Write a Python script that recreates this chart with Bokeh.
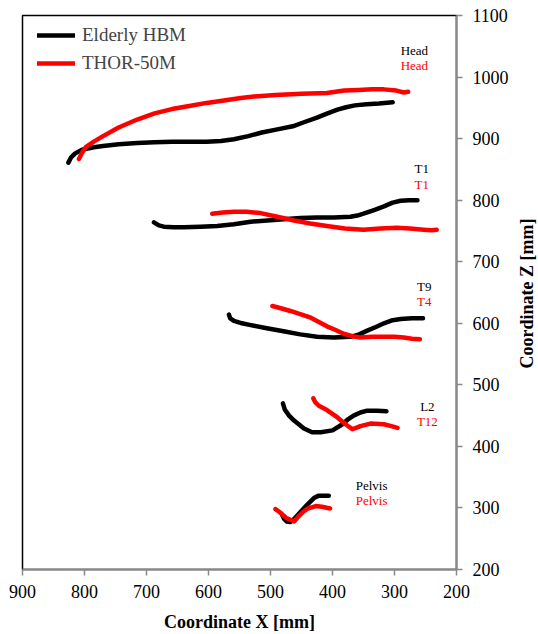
import math
from bokeh.plotting import figure
from bokeh.models import Range1d, Legend, LegendItem, FixedTicker, Label
from bokeh.core.properties import value
from bokeh.embed import file_html
from bokeh.resources import INLINE

# ---- data (mm) ----
hbm_head_x = [826, 822, 815, 804, 785, 770, 745, 715, 687, 659, 631, 603, 580, 559, 536, 514, 489, 464, 445, 425, 408, 392, 378, 364, 345, 325, 303]
hbm_head_z = [861, 869, 876, 882, 886, 888, 891, 893, 894, 895, 895, 895, 896, 899, 904, 910, 915, 920, 927, 934, 941, 947, 951, 954, 956, 957, 959]
thor_head_x = [809, 804, 798, 785, 770, 745, 715, 687, 659, 631, 603, 575, 548, 520, 492, 450, 409, 395, 381, 358, 336, 317, 297, 285, 278]
thor_head_z = [867, 877, 886, 895, 904, 918, 931, 941, 948, 953, 958, 962, 966, 969, 971, 973, 974, 976, 978, 979, 980, 980, 978, 975, 976]

hbm_t1_x = [688, 680, 672, 656, 640, 613, 586, 559, 532, 505, 479, 452, 425, 398, 371, 360, 350, 333, 317, 303, 290, 276, 263]
hbm_t1_z = [764, 759, 757, 756, 756, 757, 758, 761, 765, 767, 769, 771, 772, 772, 773, 775, 778, 784, 790, 796, 799, 800, 800]
thor_t1_x = [594, 577, 559, 538, 516, 489, 462, 436, 409, 380, 350, 323, 296, 275, 253, 240, 232]
thor_t1_z = [778, 780, 781, 781, 779, 773, 767, 762, 758, 754, 752, 754, 755, 754, 752, 751, 752]

hbm_t9_x = [567, 565, 559, 546, 532, 506, 479, 452, 425, 398, 371, 357, 344, 330, 317, 303, 290, 272, 254]
hbm_t9_z = [614, 608, 604, 600, 597, 592, 587, 582, 578, 577, 578, 582, 588, 594, 600, 605, 607, 608, 608]
thor_t4_x = [497, 482, 468, 452, 435, 422, 409, 395, 382, 368, 355, 336, 317, 300, 285, 272, 259]
thor_t4_z = [628, 624, 620, 615, 609, 602, 595, 589, 583, 579, 577, 578, 578, 578, 577, 575, 574]

hbm_l2_x = [480, 477, 470, 462, 446, 433, 419, 400, 384, 375, 366, 355, 344, 328, 313]
hbm_l2_z = [470, 460, 450, 442, 429, 423, 423, 426, 436, 444, 450, 455, 458, 458, 457]
thor_t12_x = [431, 428, 422, 409, 392, 379, 368, 362, 355, 339, 317, 305, 295]
thor_t12_z = [478, 472, 466, 459, 447, 436, 428, 430, 433, 437, 436, 433, 430]

hbm_pelvis_x = [481, 478, 474, 468, 462, 452, 441, 430, 422, 414, 406]
hbm_pelvis_z = [288, 282, 278, 277, 282, 293, 305, 316, 320, 320, 320]
thor_pelvis_x = [492, 485, 475, 462, 456, 448, 440, 427, 417, 404]
thor_pelvis_z = [298, 293, 284, 278, 285, 293, 299, 303, 302, 299]

series_names = ["Elderly HBM", "THOR-50M"]
series_colors = ["#000000", "#ff0000"]

hbm_labels = ["Head", "T1", "T9", "L2", "Pelvis"]
thor_labels = ["Head", "T1", "T4", "T12", "Pelvis"]
label_x = [268, 256, 252, 247, 337]
hbm_label_z = [1043, 851, 660, 464, 336]
thor_label_z = [1019, 826, 635, 440, 312]

x_ticks = [900, 800, 700, 600, 500, 400, 300, 200]
y_ticks = [200, 300, 400, 500, 600, 700, 800, 900, 1000, 1100]

FONT = "Liberation Serif"
AXIS_GRAY = "#8a8a8a"

p = figure(width=538, height=634,
           x_range=Range1d(900, 200), y_range=Range1d(200, 1100),
           y_axis_location="right",
           output_backend="svg", toolbar_location=None,
           min_border_left=22, min_border_right=82,
           min_border_top=15, min_border_bottom=63)

p.grid.visible = False
p.outline_line_color = "black"
p.outline_line_width = 1.5
p.background_fill_color = "white"
p.border_fill_color = "white"

for ax in (p.xaxis[0], p.yaxis[0]):
    ax.axis_line_color = AXIS_GRAY
    ax.axis_line_width = 2
    ax.major_tick_line_color = AXIS_GRAY
    ax.major_tick_line_width = 1.5
    ax.major_tick_out = 6
    ax.major_tick_in = 0
    ax.minor_tick_line_color = None
    ax.major_label_text_font = FONT
    ax.major_label_text_font_size = "18px"
    ax.major_label_text_color = "black"
    ax.axis_label_text_font = FONT
    ax.axis_label_text_font_size = "18px"
    ax.axis_label_text_font_style = "bold"
    ax.axis_label_text_color = "black"

p.xaxis.ticker = FixedTicker(ticks=x_ticks)
p.yaxis.ticker = FixedTicker(ticks=y_ticks)
p.xaxis.axis_label = "Coordinate X [mm]"
p.xaxis.major_label_standoff = 9
p.xaxis.axis_label_standoff = 11
p.yaxis.major_label_standoff = 10

# Y-axis title, reading bottom-to-top, placed in the right side panel
p.add_layout(Label(x=15, y=276, x_units="screen", y_units="screen",
                   text="Coordinate Z [mm]", angle=math.pi / 2,
                   text_font=FONT, text_font_size="18px", text_font_style="bold",
                   text_color="black", text_align="center", text_baseline="middle"),
             "right")

hbm_segments = [(hbm_head_x, hbm_head_z), (hbm_t1_x, hbm_t1_z), (hbm_t9_x, hbm_t9_z),
                (hbm_l2_x, hbm_l2_z), (hbm_pelvis_x, hbm_pelvis_z)]
thor_segments = [(thor_head_x, thor_head_z), (thor_t1_x, thor_t1_z), (thor_t4_x, thor_t4_z),
                 (thor_t12_x, thor_t12_z), (thor_pelvis_x, thor_pelvis_z)]

first = {}
for name, color, segs in ((series_names[0], series_colors[0], hbm_segments),
                          (series_names[1], series_colors[1], thor_segments)):
    for xs, zs in segs:
        r = p.line(xs, zs, line_color=color, line_width=4.5,
                   line_cap="round", line_join="round")
        first.setdefault(name, r)

p.text(x=label_x, y=hbm_label_z, text=hbm_labels, text_color=series_colors[0],
       text_font=value(FONT), text_font_size="13px",
       text_align="center", text_baseline="middle")
p.text(x=label_x, y=thor_label_z, text=thor_labels, text_color=series_colors[1],
       text_font=value(FONT), text_font_size="13px",
       text_align="center", text_baseline="middle")

legend = Legend(items=[LegendItem(label=n, renderers=[first[n]]) for n in series_names],
                location=(15, 495), border_line_color=None, background_fill_alpha=0,
                label_text_font=FONT, label_text_font_size="19px",
                glyph_width=38, glyph_height=20, label_height=20,
                spacing=6, padding=0, margin=0, label_standoff=7)
p.add_layout(legend)

open("out.html", "w").write(file_html(p, INLINE))
